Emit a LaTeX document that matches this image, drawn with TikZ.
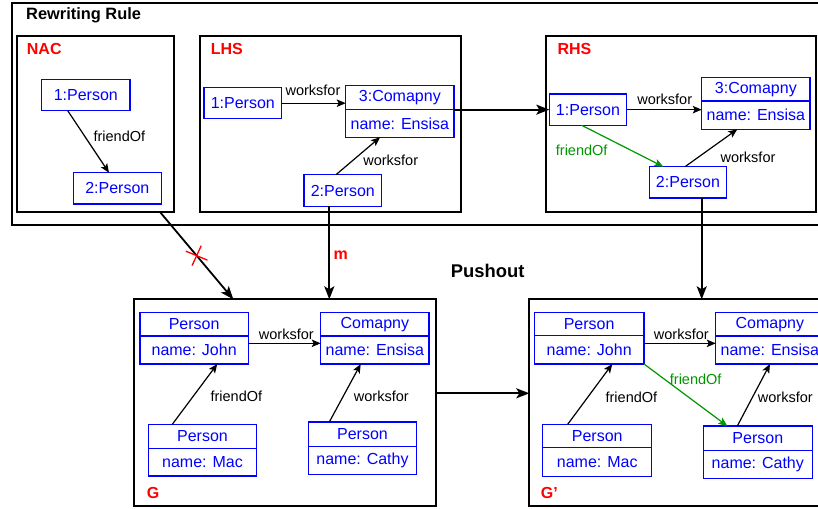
\documentclass[tikz,border=0pt]{standalone}
\usepackage{fontspec}
\setmainfont{Liberation Sans}
\usetikzlibrary{arrows.meta}
\definecolor{objblue}{RGB}{0,0,255}
\definecolor{titlered}{RGB}{255,0,0}
\definecolor{newgreen}{RGB}{0,150,0}
\begin{document}
\begin{tikzpicture}[x=1pt,y=-1pt,
  frame/.style={draw=black,line width=2pt,anchor=north west,inner sep=0pt,outer sep=0pt},
  obj/.style={draw=objblue,text=objblue,line width=1.4pt,anchor=north west,inner sep=0pt,outer sep=0pt,font=\fontsize{16}{19}\selectfont},
  title/.style={anchor=west,inner sep=0pt,font=\bfseries\fontsize{16.4}{19}\selectfont},
  redtitle/.style={title,text=titlered,font=\bfseries\fontsize{16}{19}\selectfont},
  lbl/.style={anchor=west,inner sep=0pt,font=\fontsize{14.5}{17}\selectfont},
  greenlbl/.style={lbl,text=newgreen},
  arr/.style={line width=1.2pt,-{Stealth[length=9pt,width=7.5pt,inset=2pt]}},
  bigarr/.style={line width=1.8pt,-{Stealth[length=13pt,width=10pt,inset=3pt]}},
  cross/.style={draw=titlered,line width=1.3pt}
]
\useasboundingbox (0,0) rectangle (818,508);
\fill[white] (0,0) rectangle (818,508);
\clip (0,0) rectangle (818,508);

% frames
\node[frame,minimum width=830pt,minimum height=222.3pt] (rule) at (11.7,2.7) {};
\node[frame,minimum width=156.4pt,minimum height=176.3pt] (nac) at (17.3,35.7) {};
\node[frame,minimum width=260.7pt,minimum height=176.3pt] (lhs) at (200,35.7) {};
\node[frame,minimum width=270.3pt,minimum height=176.3pt] (rhs) at (545.7,35.7) {};
\node[frame,minimum width=301.7pt,minimum height=206.4pt] (G) at (134,299.3) {};
\node[frame,minimum width=300pt,minimum height=206.4pt] (Gp) at (529.3,299.3) {};

% titles
\node[title] (ruletitle) at (26,15) {Rewriting Rule};
\node[redtitle] (nactitle) at (26.7,49.3) {NAC};
\node[redtitle] (lhstitle) at (210.7,49.3) {LHS};
\node[redtitle] (rhstitle) at (557.3,49.3) {RHS};
\node[title,font=\bfseries\fontsize{18.4}{21}\selectfont] (pushout) at (450.7,270.7) {Pushout};
\node[redtitle] (gtitle) at (146.7,493.3) {G};
\node[redtitle] (gptitle) at (540.7,493.3) {G'};

% NAC
\node[obj,minimum width=88.3pt,minimum height=31.4pt] (nac1) at (41.7,79.3) {1:Person};
\node[obj,minimum width=88pt,minimum height=31.3pt] (nac2) at (73.3,172.7) {2:Person};

% LHS
\node[obj,minimum width=77.7pt,minimum height=31pt] (lhs1) at (204,87.7) {1:Person};
\node[obj,minimum width=108.3pt,minimum height=23.6pt] (lhs3t) at (345.7,85.7) {3:Comapny};
\node[obj,minimum width=108.3pt,minimum height=28pt] (lhs3b) at (345.7,109.3) {name: Ensisa};
\node[obj,minimum width=77.7pt,minimum height=31.6pt] (lhs2) at (304,174.7) {2:Person};

% RHS
\node[obj,minimum width=77.4pt,minimum height=31.3pt] (rhs1) at (549.3,94) {1:Person};
\node[obj,minimum width=108.3pt,minimum height=23.7pt] (rhs3t) at (701.7,77.3) {3:Comapny};
\node[obj,minimum width=108.3pt,minimum height=28.3pt] (rhs3b) at (701.7,101) {name: Ensisa};
\node[obj,minimum width=77.4pt,minimum height=31.3pt] (rhs2) at (649.3,166.7) {2:Person};

% G
\node[obj,minimum width=108.3pt,minimum height=23.7pt] (gjt) at (140,312.3) {Person};
\node[obj,minimum width=108.3pt,minimum height=28pt] (gjb) at (140,336) {name: John};
\node[obj,minimum width=108.3pt,minimum height=23.7pt] (gct) at (320.7,312.3) {Comapny};
\node[obj,minimum width=108.3pt,minimum height=28pt] (gcb) at (320.7,336) {name: Ensisa};
\node[obj,minimum width=108.4pt,minimum height=24.4pt] (gmt) at (148.3,424.3) {Person};
\node[obj,minimum width=108.4pt,minimum height=27.3pt] (gmb) at (148.3,448.7) {name: Mac};
\node[obj,minimum width=108.4pt,minimum height=24.7pt] (gkt) at (308.3,422) {Person};
\node[obj,minimum width=108.4pt,minimum height=27.6pt] (gkb) at (308.3,446.7) {name: Cathy};

% G'
\node[obj,minimum width=109.7pt,minimum height=23.4pt] (hjt) at (534.3,312.3) {Person};
\node[obj,minimum width=109.7pt,minimum height=28.3pt] (hjb) at (534.3,335.7) {name: John};
\node[obj,minimum width=108.3pt,minimum height=23.7pt] (hct) at (715.7,312.3) {Comapny};
\node[obj,minimum width=108.3pt,minimum height=28pt] (hcb) at (715.7,336) {name: Ensisa};
\node[obj,minimum width=109pt,minimum height=23.4pt] (hmt) at (542.7,424.3) {Person};
\node[obj,minimum width=109pt,minimum height=29pt] (hmb) at (542.7,447.7) {name: Mac};
\node[obj,minimum width=109pt,minimum height=24.7pt] (hkt) at (703.3,426) {Person};
\node[obj,minimum width=109pt,minimum height=28pt] (hkb) at (703.3,450.7) {name: Cathy};

% NAC connector
\draw[arr] ([xshift=26pt]nac1.south west) -- ([xshift=35.7pt]nac2.north west)
  node[lbl] (l1) at (93,136.7) {friendOf};

% LHS connectors
\draw[arr] (lhs1.east) -- (lhs1.east -| lhs3t.west)
  node[lbl] (l2) at (285,90.7) {worksfor};
\draw[arr] ([xshift=32pt]lhs2.north west) -- ([xshift=34.3pt]lhs3b.south west)
  node[lbl] (l3) at (362.7,160) {worksfor};

% LHS -> RHS
\draw[bigarr] (rhs1.west -| lhs3b.east) -- (rhs1.west);

% RHS connectors
\draw[arr] (rhs1.east) -- (rhs1.east -| rhs3b.west)
  node[lbl] (l4) at (636.7,99.3) {worksfor};
\draw[arr,draw=newgreen] ([xshift=32.4pt]rhs1.south west) -- ([xshift=14pt]rhs2.north west)
  node[greenlbl] (l5) at (555.3,150.7) {friendOf};
\draw[arr] ([xshift=35.7pt]rhs2.north west) -- ([xshift=35.6pt]rhs3b.south west)
  node[lbl] (l6) at (720,157.3) {worksfor};

% NAC -> G (negated)
\draw[bigarr] ([xshift=-13.7pt]nac.south east) -- coordinate[pos=0.5] (xc) ([xshift=99.3pt]G.north west);
\draw[cross] ([shift={(-10.8pt,4.5pt)}]xc) -- ([shift={(10.8pt,-4.5pt)}]xc);
\draw[cross] ([shift={(4.6pt,10pt)}]xc) -- ([shift={(-4.6pt,-10pt)}]xc);

% LHS -> G (m)
\draw[bigarr] ([xshift=25.3pt]lhs2.south west) -- ([xshift=25.3pt]lhs2.south west |- G.north)
  node[redtitle] (ml) at (332.7,255) {m};

% RHS -> G'
\draw[bigarr] ([xshift=52.4pt]rhs2.south west) -- ([xshift=52.4pt]rhs2.south west |- Gp.north);

% G -> G'
\draw[bigarr] ([yshift=9.2pt]G.east) -- ([yshift=9.2pt]G.east -| Gp.west);

% G connectors
\draw[arr] ([yshift=6.7pt]gjb.east) -- ([yshift=6.7pt]gjb.east -| gcb.west)
  node[lbl] (l7) at (258.3,334) {worksfor};
\draw[arr] ([xshift=24pt]gmt.north west) -- ([xshift=77.3pt]gjb.south west)
  node[lbl] (l8) at (210,396.7) {friendOf};
\draw[arr] ([xshift=21pt]gkt.north west) -- ([xshift=40pt]gcb.south west)
  node[lbl] (l9) at (353.3,396.7) {worksfor};

% G' connectors
\draw[arr] ([yshift=6.5pt]hjb.east) -- ([yshift=6.5pt]hjb.east -| hcb.west)
  node[lbl] (l10) at (653.3,334) {worksfor};
\draw[arr] ([xshift=25pt]hmt.north west) -- ([xshift=78pt]hjb.south west)
  node[lbl] (l11) at (605,397.3) {friendOf};
\draw[arr,draw=newgreen] (hjb.south east) -- ([xshift=24pt]hkt.north west)
  node[greenlbl] (l12) at (669.3,379.3) {friendOf};
\draw[arr] ([xshift=34pt]hkt.north west) -- ([xshift=54.3pt]hcb.south west)
  node[lbl] (l13) at (757.3,397.3) {worksfor};
\end{tikzpicture}
\end{document}
